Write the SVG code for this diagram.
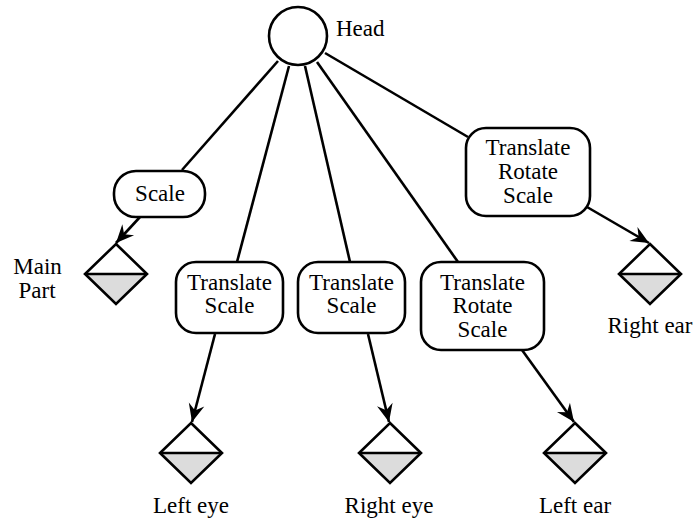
<svg xmlns="http://www.w3.org/2000/svg" width="696" height="518" viewBox="0 0 696 518">
<defs>
<style>
.b{fill:#fff;stroke:#000;stroke-width:2.6}
.c{stroke:#000;stroke-width:2.6;fill:none}
.lo{fill:#dcdcdc;stroke:none}
.t{font-family:'Liberation Serif';font-size:23px;text-anchor:middle;fill:#000}
</style>
<marker id="ah" viewBox="-20 -10 22 20" refX="0" refY="0" markerWidth="22" markerHeight="20" markerUnits="userSpaceOnUse" orient="auto">
<path d="M0,0 L-18,-8 L-12,0 L-18,8 Z" fill="#000"/>
</marker>
<g id="dia">
<path d="M-31,0 L31,0 L0,30 Z" class="lo"/>
<path d="M0,-30 L31,0 L0,30 L-31,0 Z" fill="none" stroke="#000" stroke-width="2.6"/>
<path d="M-31,0 L31,0" stroke="#000" stroke-width="2.6"/>
</g>
</defs>
<rect width="696" height="518" fill="#fff"/>
<g id="connectors">
<path class="c" d="M278,61 L182,170"/>
<path class="c" d="M289,66 L237,262"/>
<path class="c" d="M305,66 L350,262"/>
<path class="c" d="M317,62 L458,262"/>
<path class="c" d="M325,53 L468,137"/>
<path class="c" d="M140,217 L116,243" marker-end="url(#ah)"/>
<path class="c" d="M215,334 L192,422" marker-end="url(#ah)"/>
<path class="c" d="M368,334 L389,422" marker-end="url(#ah)"/>
<path class="c" d="M522,350 L574,422" marker-end="url(#ah)"/>
<path class="c" d="M587,207 L649,243" marker-end="url(#ah)"/>
</g>
<g id="head">
<circle class="b" cx="298" cy="36" r="29"/>
<text class="t" x="336" y="36" style="text-anchor:start">Head</text>
</g>
<g id="scale1">
<rect class="b" x="114" y="171" width="91" height="46" rx="22"/>
<text class="t" x="160" y="201">Scale</text>
</g>
<g id="ts-left">
<rect class="b" x="176" y="262" width="107" height="71" rx="20"/>
<text class="t" x="229.5" y="290">Translate</text>
<text class="t" x="229.5" y="313">Scale</text>
</g>
<g id="ts-right">
<rect class="b" x="298" y="262" width="107" height="71" rx="20"/>
<text class="t" x="351.5" y="290">Translate</text>
<text class="t" x="351.5" y="313">Scale</text>
</g>
<g id="trs-left">
<rect class="b" x="421" y="262" width="123" height="88" rx="20"/>
<text class="t" x="482.5" y="290">Translate</text>
<text class="t" x="482.5" y="313">Rotate</text>
<text class="t" x="482.5" y="337">Scale</text>
</g>
<g id="trs-right">
<rect class="b" x="466" y="128" width="124" height="88" rx="20"/>
<text class="t" x="528" y="155">Translate</text>
<text class="t" x="528" y="179">Rotate</text>
<text class="t" x="528" y="203">Scale</text>
</g>
<g id="main-part">
<use href="#dia" x="116" y="274"/>
<text class="t" x="37.5" y="274">Main</text>
<text class="t" x="37" y="298">Part</text>
</g>
<g id="left-eye">
<use href="#dia" x="191" y="453"/>
<text class="t" x="191" y="513">Left eye</text>
</g>
<g id="right-eye">
<use href="#dia" x="390" y="453"/>
<text class="t" x="389" y="513">Right eye</text>
</g>
<g id="left-ear">
<use href="#dia" x="575" y="453"/>
<text class="t" x="575" y="513">Left ear</text>
</g>
<g id="right-ear">
<use href="#dia" x="650" y="274"/>
<text class="t" x="650" y="333">Right ear</text>
</g>
</svg>
